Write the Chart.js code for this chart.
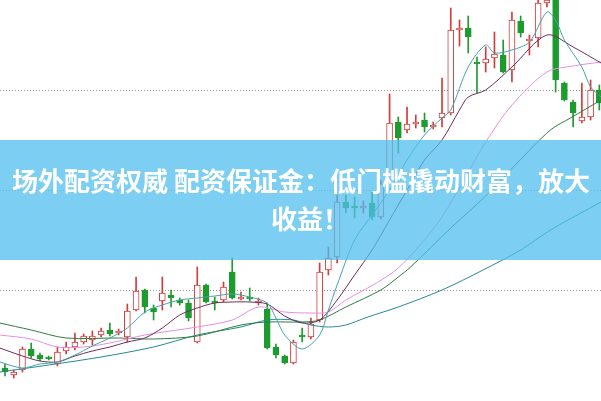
<!DOCTYPE html>
<html>
<head>
<meta charset="utf-8">
<script src="https://cdn.jsdelivr.net/npm/chart.js@4.4.1/dist/chart.umd.min.js"></script>
<style>
  html, body { margin: 0; padding: 0; background: #fff; }
  #wrap { width: 601px; height: 401px; }
</style>
</head>
<body>
<div id="wrap"><canvas id="myChart" width="601" height="401"></canvas></div>
<script>
// daily candles
const opens = [6.22, 6.15, 6.20, 6.41, 6.35, 6.33, 6.26, 6.39, 6.43, 6.48,
  6.50, 6.55, 6.60, 6.57, 6.53, 6.80, 7.00, 6.82, 6.89, 6.95,
  6.90, 6.87, 6.48, 7.05, 6.89, 6.90, 7.18, 6.91, 6.93, 6.87,
  6.81, 6.43, 6.34, 6.27, 6.55, 6.53, 6.70, 7.20, 7.33, 7.88,
  7.84, 7.82, 7.87, 7.73, 8.10, 8.68, 8.60, 8.66, 8.70, 8.63,
  8.72, 8.77, 9.60, 9.62, 9.28, 9.27, 9.32, 9.35, 9.20, 9.69,
  9.49, 9.52, 9.87, 9.92, 9.07, 8.88, 8.69, 8.73, 9.00];
const highs = [6.26, 6.20, 6.43, 6.47, 6.37, 6.34, 6.43, 6.48, 6.57, 6.56,
  6.59, 6.62, 6.67, 6.61, 6.86, 7.13, 7.01, 6.85, 7.13, 7.00,
  6.92, 6.90, 7.23, 7.06, 6.93, 7.08, 7.32, 6.98, 7.02, 6.92,
  6.87, 6.46, 6.35, 6.50, 6.62, 6.72, 7.27, 7.43, 7.95, 7.95,
  7.93, 7.89, 7.98, 8.10, 8.96, 8.73, 8.83, 8.75, 8.77, 8.68,
  9.12, 9.82, 9.70, 9.74, 9.33, 9.43, 9.58, 9.50, 9.78, 9.74,
  9.55, 9.90, 9.95, 9.95, 9.08, 8.90, 9.07, 9.10, 9.05];
const lows = [6.14, 6.12, 6.18, 6.32, 6.29, 6.30, 6.24, 6.36, 6.40, 6.46,
  6.45, 6.53, 6.54, 6.55, 6.48, 6.79, 6.77, 6.70, 6.80, 6.83,
  6.85, 6.69, 6.47, 6.87, 6.80, 6.88, 6.91, 6.90, 6.89, 6.85,
  6.41, 6.32, 6.26, 6.26, 6.48, 6.51, 6.68, 7.15, 7.27, 7.77,
  7.72, 7.77, 7.70, 7.71, 8.08, 8.37, 8.57, 8.62, 8.58, 8.61,
  8.63, 8.75, 9.44, 9.37, 8.97, 9.18, 9.22, 9.17, 9.08, 9.53,
  9.35, 9.43, 9.83, 8.98, 8.89, 8.63, 8.67, 8.70, 8.80];
const closes = [6.18, 6.18, 6.41, 6.34, 6.31, 6.31, 6.38, 6.43, 6.48, 6.54,
  6.54, 6.59, 6.56, 6.59, 6.79, 6.99, 6.83, 6.78, 6.97, 6.92,
  6.87, 6.72, 7.05, 6.88, 6.87, 7.03, 6.92, 6.93, 6.91, 6.89,
  6.42, 6.35, 6.27, 6.48, 6.53, 6.66, 7.18, 7.32, 7.88, 7.82,
  7.82, 7.84, 7.73, 8.06, 8.67, 8.52, 8.66, 8.68, 8.63, 8.65,
  8.77, 9.60, 9.62, 9.53, 9.26, 9.31, 9.36, 9.18, 9.70, 9.57,
  9.51, 9.87, 9.90, 9.10, 8.90, 8.77, 8.73, 9.00, 8.87];

// moving average lines, sampled where they could be read (x = candle index)
const ma5X = [-0.6, 2, 4, 6, 8, 10, 12, 14, 16, 18, 20, 22, 24, 26, 28, 30, 31, 32, 34, 36,
  37, 38, 40, 42, 44, 46, 48, 50, 51, 53, 55, 56, 58, 60, 62, 63, 64, 66, 67, 68.2];
const ma5Y = [6.28, 6.22, 6.26, 6.28, 6.35, 6.44, 6.52, 6.62, 6.78, 6.85, 6.90, 6.92, 6.94, 6.96, 6.93, 6.87, 6.72, 6.55, 6.41, 6.55,
  6.80, 7.05, 7.50, 7.75, 8.00, 8.30, 8.55, 8.72, 8.80, 9.23, 9.45, 9.37, 9.40, 9.48, 9.78, 9.70, 9.50, 9.23, 9.03, 8.93];
const ma10X = [-0.6, 2, 4, 6, 8, 10, 12, 14, 16, 18, 20, 22, 24, 26, 28, 30, 32, 34, 36, 38,
  40, 42, 44, 46, 48, 50, 52, 53, 55, 58, 62, 65, 68.2];
const ma10Y = [6.42, 6.34, 6.29, 6.28, 6.34, 6.39, 6.43, 6.48, 6.52, 6.62, 6.75, 6.82, 6.87, 6.88, 6.88, 6.86, 6.74, 6.67, 6.70, 6.90,
  7.15, 7.40, 7.70, 8.00, 8.30, 8.50, 8.80, 8.93, 9.00, 9.23, 9.55, 9.43, 9.27];
const ma20X = [-0.6, 3, 6, 9, 12, 16, 22, 26, 29, 32, 35, 37, 39, 42.5, 45, 48, 50, 52.5, 55, 58, 62, 65, 68.2];
const ma20Y = [6.55, 6.51, 6.43, 6.43, 6.47, 6.55, 6.63, 6.70, 6.83, 6.78, 6.77, 6.78, 6.90, 7.07, 7.22, 7.50, 7.73, 8.10, 8.48, 8.85, 9.18, 9.24, 9.28];
const ma30X = [-0.6, 3, 7, 13, 17, 22, 27, 30, 34, 36, 39, 43, 45, 46.4, 51, 55, 58.6, 62.4, 64.7, 68.2];
const ma30Y = [6.67, 6.60, 6.52, 6.52, 6.51, 6.54, 6.65, 6.68, 6.68, 6.70, 6.83, 7.00, 7.13, 7.23, 7.62, 7.94, 8.27, 8.60, 8.72, 8.90];
const ma60X = [-0.6, 5, 11, 17, 22, 27, 30, 33, 35, 37, 39, 41.5, 45, 50, 54.7, 59, 62.4, 68.2];
const ma60Y = [6.18, 6.25, 6.33, 6.43, 6.55, 6.63, 6.70, 6.70, 6.65, 6.63, 6.65, 6.73, 6.83, 7.00, 7.20, 7.40, 7.60, 7.88];

const titleLine1 = "场外配资权威 配资保证金：低门槛撬动财富，放大";
const titleLine2 = "收益！";

const upColor = "#d23c3c";
const downColor = "#1e9b2e";

const isUp = opens.map((o, i) => closes[i] >= o);
const bodies = opens.map((o, i) => ({ x: i, y: [o, closes[i]] }));
const wicks = lows.map((l, i) => ({ x: i, y: [l, highs[i]] }));

function maLine(label, xs, ys, color) {
  return {
    type: "line",
    label: label,
    data: xs.map((x, i) => ({ x: x, y: ys[i] })),
    borderColor: color,
    borderWidth: 1,
    pointRadius: 0,
    tension: 0.3,
    fill: false,
  };
}

const banner = {
  id: "banner",
  afterDraw(chart) {
    const ctx = chart.ctx;
    ctx.save();
    ctx.fillStyle = "rgba(80, 190, 237, 0.75)";
    ctx.fillRect(0, 140, chart.width, 120);
    ctx.fillStyle = "#ffffff";
    ctx.font = 'bold 26px "Noto Sans CJK SC"';
    ctx.textBaseline = "middle";
    ctx.textAlign = "center";
    ctx.fillText(titleLine1, 301, 181);
    ctx.textAlign = "left";
    ctx.fillText(titleLine2, 271, 219);
    ctx.restore();
  },
};

var ctx = document.getElementById("myChart").getContext("2d");
var chart = new Chart(ctx, {
  type: "bar",
  data: {
    datasets: [
      maLine("MA5", ma5X, ma5Y, "#45a3ad"),
      maLine("MA10", ma10X, ma10Y, "#6e2c5c"),
      maLine("MA20", ma20X, ma20Y, "#e58ee2"),
      maLine("MA30", ma30X, ma30Y, "#2f7b40"),
      maLine("MA60", ma60X, ma60Y, "#268a90"),
      {
        label: "body",
        data: bodies,
        grouped: false,
        barThickness: 6,
        borderWidth: 1,
        borderSkipped: false,
        backgroundColor: isUp.map((u) => (u ? "#ffffff" : downColor)),
        borderColor: isUp.map((u) => (u ? upColor : downColor)),
      },
      {
        label: "wick",
        data: wicks,
        grouped: false,
        barThickness: 1,
        borderWidth: 0,
        backgroundColor: isUp.map((u) => (u ? upColor : downColor)),
      },
    ],
  },
  options: {
    responsive: false,
    animation: false,
    layout: { padding: 0 },
    plugins: {
      legend: { display: false },
      tooltip: { enabled: false },
    },
    scales: {
      x: {
        type: "linear",
        min: -0.57,
        max: 68.19,
        offset: false,
        display: false,
      },
      y: {
        type: "linear",
        min: 5.89,
        max: 9.9,
        ticks: { display: false, stepSize: 1 },
        grid: {
          drawTicks: false,
          color: (c) =>
            Math.abs(c.tick.value - Math.round(c.tick.value)) < 1e-6 ? "#9a9a9a" : "rgba(0,0,0,0)",
        },
        border: { display: false, dash: [1, 2] },
      },
    },
  },
  plugins: [banner],
});
</script>
</body>
</html>
